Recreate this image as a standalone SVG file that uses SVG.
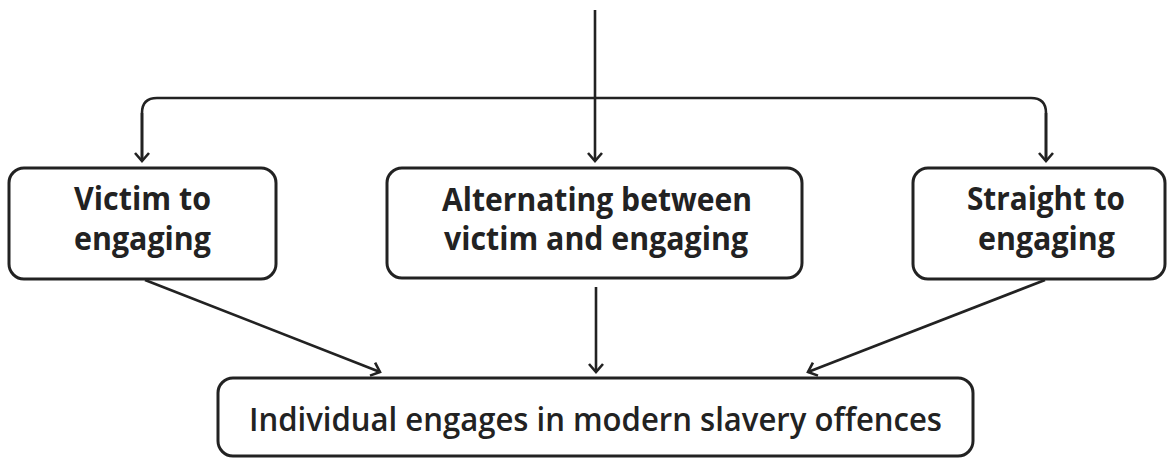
<svg xmlns="http://www.w3.org/2000/svg" width="1168" height="459" viewBox="0 0 1168 459">
<style>
.box{fill:#fff;stroke:#222;stroke-width:3}
.ln{fill:none;stroke:#222;stroke-width:2.6}
.t{font-family:"Open Sans","Liberation Sans",sans-serif;font-weight:700;font-size:32px;fill:#222;text-anchor:middle}
.tr{font-family:"Open Sans","Liberation Sans",sans-serif;font-weight:600;font-size:33px;fill:#222;text-anchor:middle}
</style>
<defs>
<marker id="ah" markerUnits="userSpaceOnUse" markerWidth="20" markerHeight="20" viewBox="-10 -10 20 20" refX="0" refY="0" orient="auto">
<path d="M-8,-7 L0,0 L-8,7" fill="none" stroke="#222" stroke-width="2.6"/>
</marker>
</defs>
<rect width="1168" height="459" fill="#fff"/>
<g id="connectors">
<path class="ln" d="M595,10 V161" marker-end="url(#ah)"/>
<path class="ln" d="M142,161 V113 Q142,98 157,98 H1031 Q1046,98 1046,113 V161"/>
<path class="ln" d="M142,113 V161" marker-end="url(#ah)"/>
<path class="ln" d="M1046,113 V161" marker-end="url(#ah)"/>
<path class="ln" d="M145,280 L380,372" marker-end="url(#ah)"/>
<path class="ln" d="M596,287 V372" marker-end="url(#ah)"/>
<path class="ln" d="M1045,280 L808,372" marker-end="url(#ah)"/>
</g>
<g id="victim-to-engaging">
<rect class="box" x="9" y="168" width="267" height="111" rx="15"/>
<text class="t" x="142.5" y="210" textLength="137" lengthAdjust="spacingAndGlyphs">Victim to</text>
<text class="t" x="142.5" y="250" textLength="137" lengthAdjust="spacingAndGlyphs">engaging</text>
</g>
<g id="alternating">
<rect class="box" x="387" y="168" width="415" height="110" rx="15"/>
<text class="t" x="597" y="211" textLength="310" lengthAdjust="spacingAndGlyphs">Alternating between</text>
<text class="t" x="596" y="250" textLength="304" lengthAdjust="spacingAndGlyphs">victim and engaging</text>
</g>
<g id="straight-to-engaging">
<rect class="box" x="913" y="168" width="252" height="111" rx="15"/>
<text class="t" x="1046" y="210" textLength="158" lengthAdjust="spacingAndGlyphs">Straight to</text>
<text class="t" x="1046.5" y="250" textLength="137" lengthAdjust="spacingAndGlyphs">engaging</text>
</g>
<g id="individual-engages">
<rect class="box" x="218" y="378" width="755" height="78" rx="15"/>
<text class="tr" x="595.5" y="431" textLength="693" lengthAdjust="spacingAndGlyphs">Individual engages in modern slavery offences</text>
</g>
</svg>
